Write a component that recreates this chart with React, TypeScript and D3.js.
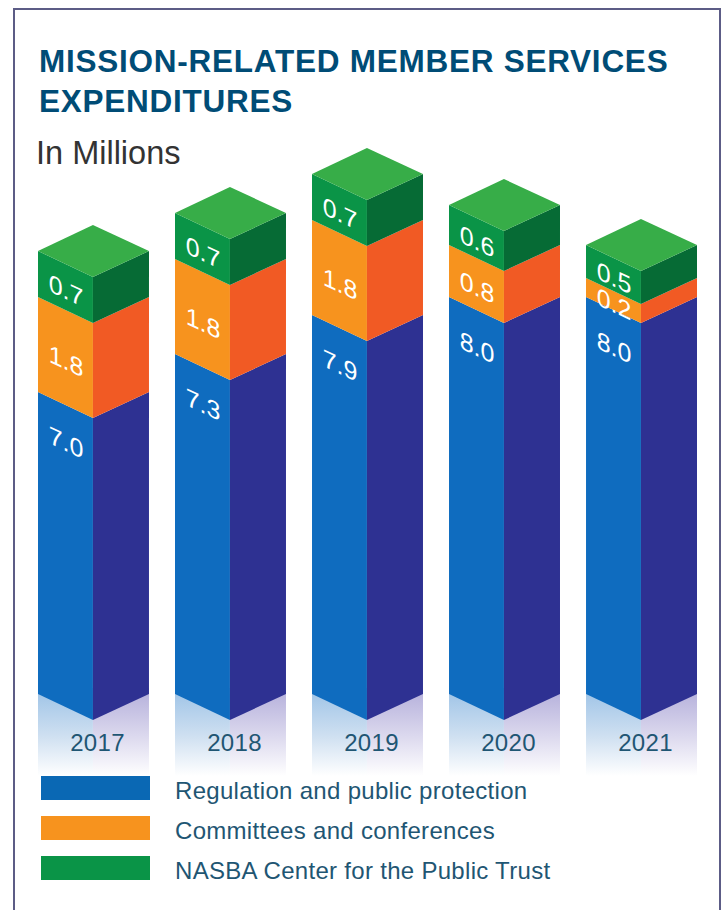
import React from "react";
import * as d3 from "d3";

const years = ["2017", "2018", "2019", "2020", "2021"];
const regulation = [7.0, 7.3, 7.9, 8.0, 8.0];
const committees = [1.8, 1.8, 1.8, 0.8, 0.2];
const center = [0.7, 0.7, 0.7, 0.6, 0.5];
const legendLabels = [
  "Regulation and public protection",
  "Committees and conferences",
  "NASBA Center for the Public Trust",
];

const width = 724;
const height = 910;
const baseline = 694; // left corner of the bar bottoms
const drop = 26; // isometric drop from side corner to front corner
const sans = "'Liberation Sans', Arial, sans-serif";

// the printed chart is not to scale, so each series gets its own height scale
const regulationHeight = d3.scaleLinear().domain([7.0, 7.3, 7.9, 8.0]).range([302, 340, 379, 397]);
const committeesHeight = d3.scaleLinear().domain([0.2, 0.8, 1.8]).range([19, 52, 95]);
const centerHeight = d3.scaleLinear().domain([0.5, 0.6, 0.7]).range([33, 40, 46]);

const x = d3.scaleBand<string>().domain(years).range([38, 697]).paddingInner(0.19);
const legendY = d3.scalePoint<string>().domain(legendLabels).range([776, 856]);

const line = d3.line();

const segments = [
  { name: "regulation", values: regulation, scale: regulationHeight, front: "#0f6cbf", side: "#2e3192" },
  { name: "committees", values: committees, scale: committeesHeight, front: "#f7931e", side: "#f15a24" },
  { name: "center", values: center, scale: centerHeight, front: "#0a9447", side: "#066b35" },
];
const legendColors = ["#0a68b4", "#f7931e", "#0a9447"];

// where the label sits below the segment's top-left corner
const labelOffset = (name: string, h: number) => (name === "regulation" ? 50 : h / 2 + 16);

const Bar = ({ year, i }: { year: string; i: number }) => {
  const xL = x(year)!;
  const bw = x.bandwidth();
  const xR = xL + bw;
  const xM = xL + bw * 0.495;
  let bottom = baseline;

  const parts = segments.map((s) => {
    const h = s.scale(s.values[i]);
    const top = bottom - h;
    const part = (
      <g key={s.name}>
        <path
          d={line([[xL, bottom], [xM, bottom + drop], [xM, top + drop], [xL, top]])!}
          fill={s.front}
        />
        <path
          d={line([[xM, bottom + drop], [xR, bottom], [xR, top], [xM, top + drop]])!}
          fill={s.side}
        />
        <text
          transform={`translate(${xL + 28},${top + labelOffset(s.name, h)}) skewY(25)`}
          textAnchor="middle"
          dy="0.36em"
          fill="#fff"
          fontSize={25}
          fontFamily={sans}
        >
          {s.values[i].toFixed(1)}
        </text>
      </g>
    );
    bottom = top;
    return part;
  });

  return (
    <g>
      <rect x={xL} y={baseline - 6} width={xM - xL} height={88} fill="url(#reflectLeft)" />
      <rect x={xM} y={baseline - 6} width={xR - xM} height={88} fill="url(#reflectRight)" />
      {parts}
      <path
        d={line([[xL, bottom], [xM, bottom - drop], [xR, bottom], [xM, bottom + drop]])!}
        fill="#37ad48"
      />
      <text
        x={xL + bw / 2 + 4}
        y={751}
        textAnchor="middle"
        fill="#1f5673"
        fontSize={24}
        letterSpacing={0.3}
        fontFamily={sans}
      >
        {year}
      </text>
    </g>
  );
};

export default function App() {
  return (
    <svg
      width={width}
      height={height}
      viewBox={`0 0 ${width} ${height}`}
      style={{ position: "absolute", left: 0, top: 0, background: "#fff" }}
    >
      <defs>
        <linearGradient id="reflectLeft" x1="0" y1="0" x2="0" y2="1">
          <stop offset="0" stopColor="#9cc2e6" />
          <stop offset="0.55" stopColor="#cfe0f1" />
          <stop offset="1" stopColor="#ffffff" />
        </linearGradient>
        <linearGradient id="reflectRight" x1="0" y1="0" x2="0" y2="1">
          <stop offset="0" stopColor="#b3aeda" />
          <stop offset="0.55" stopColor="#dcd9ee" />
          <stop offset="1" stopColor="#ffffff" />
        </linearGradient>
      </defs>

      {/* frame runs off the bottom of the page */}
      <rect x={14} y={9} width={706} height={940} fill="none" stroke="#5c5c86" strokeWidth={2} />

      <g fill="#004c76" fontFamily={sans} fontWeight="bold" fontSize={31.5} letterSpacing={0.75}>
        <text x={39} y={72}>MISSION-RELATED MEMBER SERVICES</text>
        <text x={39} y={112}>EXPENDITURES</text>
      </g>
      <text x={36} y={164} fill="#333" fontFamily={sans} fontSize={32.5}>
        In Millions
      </text>

      {years.map((y, i) => (
        <Bar key={y} year={y} i={i} />
      ))}

      {legendLabels.map((label, i) => (
        <g key={label}>
          <rect x={41} y={legendY(label)!} width={109} height={24} fill={legendColors[i]} />
          <text
            x={175}
            y={legendY(label)! + 23}
            fill="#1f5673"
            fontSize={24}
            letterSpacing={0.3}
            fontFamily={sans}
          >
            {label}
          </text>
        </g>
      ))}
    </svg>
  );
}
